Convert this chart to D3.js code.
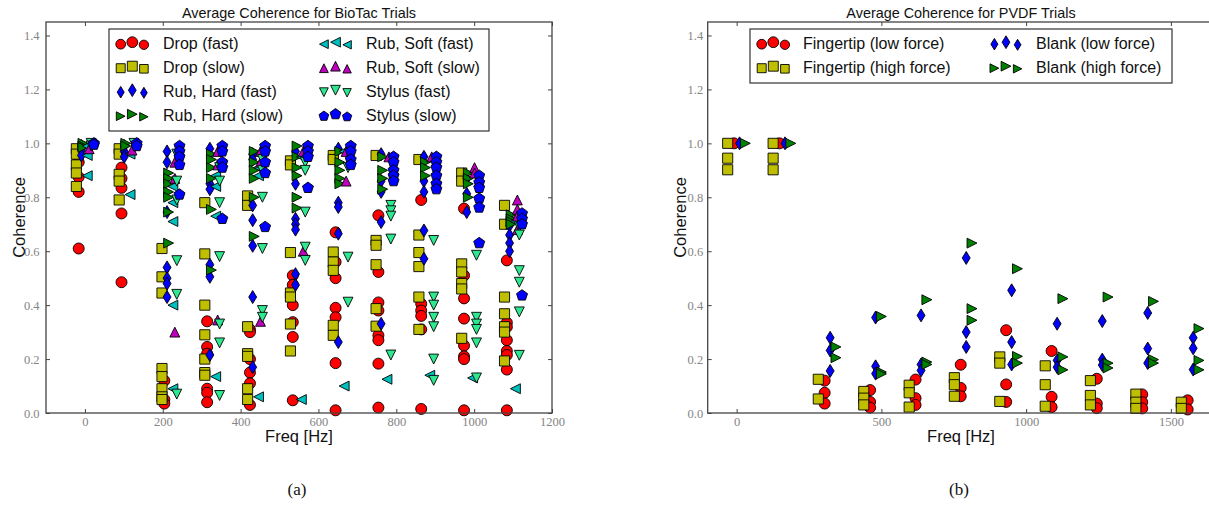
<!DOCTYPE html>
<html>
<head>
<meta charset="utf-8">
<script src="https://cdn.jsdelivr.net/npm/d3@7"></script>
<style>
  body { margin: 0; background: #fff; }
  svg text { font-family: "Liberation Sans", Arial, Helvetica, sans-serif; fill: #111; }
  .tick text { font-family: "Liberation Serif", "Times New Roman", serif; fill: #858585; font-size: 12.5px; }
  .tick line { stroke: #444; }
</style>
</head>
<body>
<svg id="chart"></svg>
<script>
// ---------- (a) BioTac: coherence per frequency group, one list per trial set ----------
const bioGroupFreqs = [-22, 88, 198, 308, 418, 528, 638, 748, 858, 968, 1078];
const bioLabels = ["Drop (fast)", "Drop (slow)", "Rub, Hard (fast)", "Rub, Hard (slow)",
                   "Rub, Soft (fast)", "Rub, Soft (slow)", "Stylus (fast)", "Stylus (slow)"];
const bioShift = [6, 0, 13, 17, 28, 33, 38, 45];   // Hz, side offset of each set inside a group
const bioXTicks = [0, 200, 400, 600, 800, 1000, 1200];

const dropFast = [
  [0.93, 0.875, 0.82, 0.61], [0.91, 0.87, 0.835, 0.74, 0.485], [0.12, 0.05, 0.035],
  [0.34, 0.245, 0.22, 0.09, 0.075, 0.04], [0.31, 0.30, 0.20, 0.15, 0.11, 0.03],
  [0.51, 0.475, 0.40, 0.337, 0.282, 0.047], [0.67, 0.56, 0.50, 0.39, 0.355, 0.185, 0.01],
  [0.733, 0.523, 0.41, 0.38, 0.288, 0.27, 0.183, 0.02], [0.79, 0.405, 0.38, 0.36, 0.31, 0.015],
  [0.758, 0.51, 0.425, 0.35, 0.25, 0.21, 0.20, 0.01], [0.566, 0.335, 0.319, 0.27, 0.23, 0.215, 0.161, 0.01]
];
const dropSlow = [
  [0.98, 0.96, 0.92, 0.89, 0.84], [0.98, 0.96, 0.885, 0.86, 0.79],
  [0.61, 0.505, 0.445, 0.165, 0.135, 0.09, 0.06, 0.05], [0.78, 0.59, 0.40, 0.29, 0.20, 0.15, 0.14],
  [0.805, 0.77, 0.32, 0.22, 0.21, 0.09, 0.05], [0.935, 0.92, 0.595, 0.445, 0.43, 0.33, 0.23],
  [0.955, 0.94, 0.597, 0.56, 0.529, 0.325, 0.288], [0.955, 0.64, 0.622, 0.55, 0.387, 0.322],
  [0.94, 0.66, 0.595, 0.543, 0.43, 0.31], [0.89, 0.86, 0.553, 0.523, 0.48, 0.46, 0.277],
  [0.77, 0.70, 0.43, 0.368, 0.32, 0.30, 0.193]
];
const rubHardFast = [
  [0.99, 0.975, 0.955], [0.99, 0.97, 0.95], [0.97, 0.93, 0.745, 0.54, 0.50, 0.48, 0.43],
  [0.98, 0.85, 0.83, 0.55, 0.505, 0.215], [0.96, 0.94, 0.77, 0.715, 0.62, 0.43, 0.17],
  [0.97, 0.85, 0.72, 0.70, 0.68, 0.515, 0.475], [0.98, 0.78, 0.764, 0.665, 0.263],
  [0.96, 0.86, 0.82, 0.708, 0.331], [0.95, 0.86, 0.82, 0.677, 0.572],
  [0.87, 0.813, 0.745], [0.695, 0.66, 0.63, 0.60]
];
const rubHardSlow = [
  [1.0, 0.99, 0.985], [1.0, 0.99], [0.89, 0.87, 0.85, 0.82, 0.80, 0.745, 0.63],
  [0.96, 0.94, 0.91, 0.87, 0.755, 0.53], [0.97, 0.93, 0.90, 0.87, 0.80, 0.655],
  [0.99, 0.95, 0.91, 0.88, 0.80, 0.76], [0.97, 0.93, 0.90, 0.87, 0.85],
  [0.95, 0.90, 0.87, 0.83], [0.93, 0.91, 0.88], [0.89, 0.87, 0.85, 0.80],
  [0.735, 0.72, 0.71, 0.70]
];
const rubSoftFast = [
  [0.99, 0.955, 0.88], [0.96, 0.81], [0.84, 0.78, 0.71, 0.40, 0.09], [0.88, 0.84, 0.73, 0.135],
  [0.91, 0.88, 0.06], [0.95, 0.05], [0.97, 0.10], [0.125], [0.14], [0.13], [0.71, 0.09]
];
const rubSoftSlow = [
  [0.98], [0.975], [0.93, 0.87, 0.30], [0.97, 0.92, 0.345], [0.97, 0.93, 0.34], [0.97, 0.60],
  [0.97, 0.86], [0.95], [0.95], [0.91, 0.89], [0.79, 0.755, 0.73, 0.68]
];
const stylusFast = [
  [1.0, 0.99], [1.0], [0.96, 0.86, 0.79, 0.565, 0.44, 0.07],
  [0.91, 0.86, 0.78, 0.58, 0.33, 0.26, 0.065], [0.94, 0.90, 0.80, 0.61, 0.38, 0.355],
  [0.93, 0.90, 0.745, 0.615, 0.566], [0.91, 0.578, 0.411], [0.77, 0.75, 0.73, 0.645, 0.215],
  [0.64, 0.43, 0.40, 0.355, 0.32, 0.20, 0.121], [0.585, 0.355, 0.33, 0.31, 0.26, 0.13],
  [0.69, 0.66, 0.528, 0.485, 0.375, 0.214]
];
const stylusSlow = [
  [1.0, 0.995], [1.0, 0.99], [0.99, 0.97, 0.95, 0.92, 0.81], [0.99, 0.97, 0.93, 0.91, 0.72],
  [0.99, 0.97, 0.93, 0.89, 0.69], [0.99, 0.97, 0.95, 0.835], [0.99, 0.97, 0.94, 0.92],
  [0.95, 0.93, 0.90, 0.88, 0.86], [0.95, 0.93, 0.91, 0.88, 0.85, 0.83],
  [0.88, 0.855, 0.835, 0.795, 0.762, 0.63], [0.74, 0.72, 0.70, 0.436]
];

// ---------- (b) PVDF ----------
const pvdfGroupFreqs = [0, 157, 313, 470, 627, 783, 940, 1097, 1253, 1410, 1567];
const pvdfLabels = ["Fingertip (low force)", "Fingertip (high force)", "Blank (low force)", "Blank (high force)"];
const pvdfShift = [-9, -31, 10, 30];
const pvdfXTicks = [0, 500, 1000, 1500];

const fingerLow = [
  [1.0], [1.0], [0.12, 0.075, 0.035], [0.085, 0.041, 0.02], [0.124, 0.055, 0.03],
  [0.179, 0.093, 0.062], [0.307, 0.106, 0.041], [0.23, 0.06, 0.022], [0.127, 0.035, 0.018],
  [0.069, 0.04, 0.017], [0.047, 0.013]
];
const fingerHigh = [
  [1.0, 0.945, 0.902], [1.0, 0.945, 0.902], [0.125, 0.052], [0.08, 0.055, 0.03],
  [0.103, 0.075, 0.022], [0.131, 0.105, 0.062], [0.208, 0.185, 0.043], [0.175, 0.105, 0.025],
  [0.12, 0.065, 0.03], [0.07, 0.04, 0.017], [0.04, 0.017]
];
const blankLow = [
  [1.0], [1.0], [0.279, 0.232, 0.156], [0.354, 0.173, 0.146], [0.362, 0.18, 0.158],
  [0.575, 0.30, 0.245], [0.455, 0.263, 0.18], [0.331, 0.195, 0.17], [0.341, 0.198, 0.178],
  [0.371, 0.239, 0.185], [0.279, 0.24, 0.161]
];
const blankHigh = [
  [1.0], [1.0], [0.245, 0.205], [0.358, 0.152, 0.145], [0.42, 0.189, 0.18],
  [0.63, 0.387, 0.344], [0.535, 0.21, 0.185], [0.424, 0.208, 0.16], [0.43, 0.185, 0.167],
  [0.414, 0.198, 0.185], [0.313, 0.195, 0.16]
];

const yTicks = [0, 0.2, 0.4, 0.6, 0.8, 1.0, 1.2, 1.4];

// ---------- drawing ----------
const W = 1209, H = 506;
const svg = d3.select("#chart").attr("width", W).attr("height", H);
svg.append("rect").attr("width", W).attr("height", H).attr("fill", "#fff");

const poly = pts => "M" + pts.map(p => p[0].toFixed(2) + "," + p[1].toFixed(2)).join("L") + "Z";
function markerPath(kind, r) {
  switch (kind) {
    case "circle": return d3.symbol(d3.symbolCircle, Math.PI * r * r)();
    case "square": { const s = r * 0.92; return poly([[-s, -s], [s, -s], [s, s], [-s, s]]); }
    case "diamond": return poly([[0, -r * 1.18], [r * 0.72, 0], [0, r * 1.18], [-r * 0.72, 0]]);
    case "right": { const s = r * 0.9; return poly([[s, 0], [-s, -s], [-s, s]]); }
    case "left": { const s = r * 0.9; return poly([[-s, 0], [s, -s], [s, s]]); }
    case "up": { const s = r * 0.9; return poly([[0, -s], [s, s], [-s, s]]); }
    case "down": { const s = r * 0.9; return poly([[0, s], [s, -s], [-s, -s]]); }
    case "pentagon": return poly(d3.range(5).map(k => {
      const a = -Math.PI / 2 + k * 2 * Math.PI / 5;
      return [r * 1.05 * Math.cos(a), r * 1.05 * Math.sin(a)];
    }));
  }
}

const panels = [
  {
    title: "Average Coherence for BioTac Trials", sub: "(a)",
    x0: 46, x1: 552, y0: 22, y1: 413, xDomain: [-100, 1200], xTicks: bioXTicks, yPad: 6.5, ylabX: 25,
    groups: bioGroupFreqs, shift: bioShift, labels: bioLabels,
    series: [dropFast, dropSlow, rubHardFast, rubHardSlow, rubSoftFast, rubSoftSlow, stylusFast, stylusSlow],
    kinds: ["circle", "square", "diamond", "right", "left", "up", "down", "pentagon"],
    colors: ["#ff0000", "#bfbf00", "#0000ff", "#008000", "#00bfbf", "#bf00bf", "#2ee890", "#0000ff"],
    legend: { x: 109, y: 29, w: 380, h: 102, cols: [132.3, 335.5], text: [163, 366], rows: [43.5, 67.5, 91.5, 115.5], perCol: 4 }
  },
  {
    title: "Average Coherence for PVDF Trials", sub: "(b)",
    x0: 707.7, x1: 1214.3, y0: 22, y1: 413, xDomain: [-100, 1650], xTicks: pvdfXTicks, yPad: 4.5, ylabX: 686,
    groups: pvdfGroupFreqs, shift: pvdfShift, labels: pvdfLabels,
    series: [fingerLow, fingerHigh, blankLow, blankHigh],
    kinds: ["circle", "square", "diamond", "right"],
    colors: ["#ff0000", "#bfbf00", "#0000ff", "#008000"],
    legend: { x: 750, y: 29, w: 422, h: 54, cols: [773.3, 1006], text: [803, 1036], rows: [43.5, 67.5], perCol: 2 }
  }
];

panels.forEach(p => {
  const x = d3.scaleLinear().domain(p.xDomain).range([p.x0, p.x1]);
  const y = d3.scaleLinear().domain([0, 1.45]).range([p.y1, p.y0]);
  const g = svg.append("g");
  const cx = (p.x0 + p.x1) / 2;

  // axes with inward ticks on all four sides
  g.append("g").attr("transform", `translate(0,${p.y1})`)
    .call(d3.axisBottom(x).tickValues(p.xTicks).tickSize(-4).tickSizeOuter(0).tickPadding(4).tickFormat(d3.format("d")));
  g.append("g").attr("transform", `translate(0,${p.y0})`)
    .call(d3.axisTop(x).tickValues(p.xTicks).tickSize(-4).tickSizeOuter(0).tickFormat(""));
  g.append("g").attr("transform", `translate(${p.x0},0)`)
    .call(d3.axisLeft(y).tickValues(yTicks).tickSize(-4).tickSizeOuter(0).tickPadding(p.yPad).tickFormat(d3.format(".1f")));
  g.append("g").attr("transform", `translate(${p.x1},0)`)
    .call(d3.axisRight(y).tickValues(yTicks).tickSize(-4).tickSizeOuter(0).tickFormat(""));
  g.selectAll(".domain").remove();
  g.selectAll(".tick text").attr("font-family", null).attr("font-size", null);

  // markers
  p.series.forEach((ser, si) => {
    const pts = [];
    ser.forEach((vals, gi) => vals.forEach(v => pts.push({ f: p.groups[gi] + p.shift[si], v })));
    g.append("g").selectAll("path").data(pts).join("path")
      .attr("d", markerPath(p.kinds[si], 5.5))
      .attr("transform", d => `translate(${x(d.f)},${y(d.v)})`)
      .attr("fill", p.colors[si]).attr("stroke", "#000").attr("stroke-width", 0.9);
  });

  // frame
  g.append("rect").attr("x", p.x0).attr("y", p.y0).attr("width", p.x1 - p.x0).attr("height", p.y1 - p.y0)
    .attr("fill", "none").attr("stroke", "#444").attr("stroke-width", 1.3);

  // legend
  const L = p.legend;
  const lg = g.append("g");
  lg.append("rect").attr("x", L.x).attr("y", L.y).attr("width", L.w).attr("height", L.h)
    .attr("fill", "#fff").attr("stroke", "#333").attr("stroke-width", 1.2);
  p.labels.forEach((lab, i) => {
    const col = Math.floor(i / L.perCol), row = i % L.perCol;
    const ry = L.rows[row];
    [[-11.6, 0.7, 0.92], [0, -1.3, 1.02], [11.6, 1.3, 0.88]].forEach(([dx, dy, sc]) => {
      lg.append("path").attr("d", markerPath(p.kinds[i], 5.3 * sc))
        .attr("transform", `translate(${L.cols[col] + dx},${ry + dy})`)
        .attr("fill", p.colors[i]).attr("stroke", "#000").attr("stroke-width", 0.9);
    });
    lg.append("text").attr("x", L.text[col]).attr("y", ry + 5.8).attr("font-size", 16).text(lab);
  });

  // titles and labels
  g.append("text").attr("x", cx).attr("y", 18).attr("text-anchor", "middle").attr("font-size", 14.4).text(p.title);
  g.append("text").attr("x", cx).attr("y", 442).attr("text-anchor", "middle").attr("font-size", 16.5).text("Freq [Hz]");
  g.append("text").attr("transform", `translate(${p.ylabX},${(p.y0 + p.y1) / 2}) rotate(-90)`)
    .attr("text-anchor", "middle").attr("font-size", 16.5).text("Coherence");
  g.append("text").attr("x", cx - 2).attr("y", 495).attr("text-anchor", "middle")
    .style("font-family", '"Liberation Serif", "Times New Roman", serif').attr("font-size", 17).text(p.sub);
});
</script>
</body>
</html>
